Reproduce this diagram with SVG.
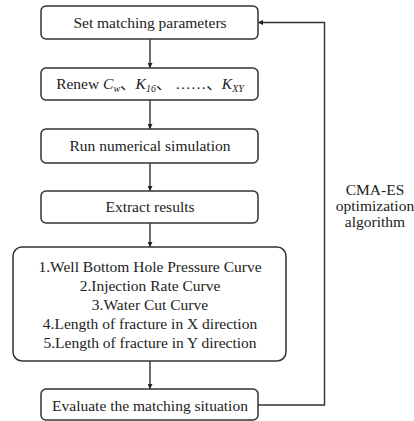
<svg xmlns="http://www.w3.org/2000/svg" width="414" height="421" viewBox="0 0 414 421">
<style>
.box{fill:#fff;stroke:#333;stroke-width:1.5}
.t{font-family:'Liberation Serif','Times New Roman','DejaVu Serif',serif;font-size:15.5px;fill:#222;text-anchor:middle}
.cjk{font-family:'Noto Sans CJK SC',sans-serif;font-style:normal}
.c{fill:none;stroke:#333;stroke-width:1.4}
</style>
<defs>
<marker id="ah" viewBox="0 0 10 10" refX="10" refY="5" markerWidth="5" markerHeight="5" markerUnits="userSpaceOnUse" orient="auto">
<path d="M0,0 L10,5 L0,10 z" fill="#222"/>
</marker>
</defs>
<rect width="414" height="421" fill="#fff"/>
<g id="connectors">
<line class="c" x1="150" y1="39" x2="150" y2="68" marker-end="url(#ah)"/>
<line class="c" x1="150" y1="100" x2="150" y2="129" marker-end="url(#ah)"/>
<line class="c" x1="150" y1="163" x2="150" y2="191" marker-end="url(#ah)"/>
<line class="c" x1="150" y1="223" x2="150" y2="247" marker-end="url(#ah)"/>
<line class="c" x1="150" y1="361" x2="150" y2="389" marker-end="url(#ah)"/>
<polyline class="c" points="258,405 324.5,405 324.5,22.5 258,22.5" marker-end="url(#ah)"/>
</g>
<g id="n1"><rect class="box" x="41" y="6" width="217" height="33" rx="5"/><text class="t" x="150" y="28">Set matching parameters</text></g>
<g id="n2"><rect class="box" x="41" y="68" width="217" height="32" rx="5"/><text class="t" x="150" y="89">Renew <tspan font-style="italic">C</tspan><tspan font-style="italic" font-size="10" dy="3">w</tspan><tspan class="cjk" dy="-3">、</tspan><tspan font-style="italic">K</tspan><tspan font-style="italic" font-size="10" dy="3">16</tspan><tspan class="cjk" dy="-3">、</tspan> ……<tspan class="cjk">、</tspan><tspan font-style="italic">K</tspan><tspan font-style="italic" font-size="10" dy="3">XY</tspan></text></g>
<g id="n3"><rect class="box" x="41" y="129" width="217" height="34" rx="5"/><text class="t" x="150" y="151">Run numerical simulation</text></g>
<g id="n4"><rect class="box" x="41" y="191" width="217" height="32" rx="5"/><text class="t" x="150" y="212">Extract results</text></g>
<g id="n5"><rect class="box" x="13" y="247" width="273" height="114" rx="9"/>
<text class="t" x="150" y="272">1.Well Bottom Hole Pressure Curve</text>
<text class="t" x="150" y="291">2.Injection Rate Curve</text>
<text class="t" x="150" y="310">3.Water Cut Curve</text>
<text class="t" x="150" y="329">4.Length of fracture in X direction</text>
<text class="t" x="150" y="348">5.Length of fracture in Y direction</text>
</g>
<g id="n6"><rect class="box" x="41" y="389" width="217" height="31" rx="5"/><text class="t" x="150" y="411">Evaluate the matching situation</text></g>
<g id="label"><text class="t" x="375" y="195">CMA-ES</text><text class="t" x="375" y="211">optimization</text><text class="t" x="375" y="227">algorithm</text></g>
</svg>
